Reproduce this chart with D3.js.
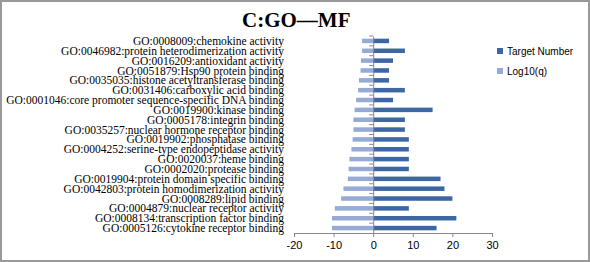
<!DOCTYPE html>
<html>
<head>
<meta charset="utf-8">
<script src="https://cdn.jsdelivr.net/npm/d3@7"></script>
<style>
  body { margin: 0; background: #fff; }
  .cat text { font-family: "Liberation Serif", "Times New Roman", serif; font-size: 11.5px; fill: #000; }
  .legend text { font-family: "Liberation Sans", Arial, sans-serif; font-size: 10px; fill: #000; }
</style>
</head>
<body>
<div id="chart"></div>
<script>
var categories = [
    "GO:0008009:chemokine activity",
    "GO:0046982:protein heterodimerization activity",
    "GO:0016209:antioxidant activity",
    "GO:0051879:Hsp90 protein binding",
    "GO:0035035:histone acetyltransferase binding",
    "GO:0031406:carboxylic acid binding",
    "GO:0001046:core promoter sequence-specific DNA binding",
    "GO:0019900:kinase binding",
    "GO:0005178:integrin binding",
    "GO:0035257:nuclear hormone receptor binding",
    "GO:0019902:phosphatase binding",
    "GO:0004252:serine-type endopeptidase activity",
    "GO:0020037:heme binding",
    "GO:0002020:protease binding",
    "GO:0019904:protein domain specific binding",
    "GO:0042803:protein homodimerization activity",
    "GO:0008289:lipid binding",
    "GO:0004879:nuclear receptor activity",
    "GO:0008134:transcription factor binding",
    "GO:0005126:cytokine receptor binding"
];
var targetNumber = [4, 8, 5, 4, 4, 8, 5, 15, 8, 8, 9, 9, 9, 9, 17, 18, 20, 9, 21, 16];
var log10q = [-2.8, -2.8, -3.1, -3.2, -3.6, -3.8, -4.3, -4.7, -5, -5, -5.2, -5.5, -6, -6.2, -6.4, -7.5, -8.1, -9.7, -10.4, -10.4];
var xTicks = [-20, -10, 0, 10, 20, 30];
var seriesNames = ["Target Number", "Log10(q)"];

var w = 590;
var h = 262;
var colors = ["#3D67A3", "#95ABD6"];

var svg = d3.select("#chart")
            .append("svg")
            .attr("width", w)
            .attr("height", h);

// frame
svg.append("rect")
    .attr("x", 1).attr("y", 1)
    .attr("width", w - 2).attr("height", h - 2)
    .attr("fill", "#fff")
    .attr("stroke", "#999")
    .attr("stroke-width", 2);

// title
svg.append("text")
    .attr("x", 242)
    .attr("y", 27)
    .style("font-family", "'Liberation Serif', 'Times New Roman', serif")
    .style("font-weight", "bold")
    .style("font-size", "21px")
    .text("C:GO\u2014MF");

var xScale = d3.scaleLinear()
            .domain([-20, 30])
            .range([294, 492]);

var yScale = d3.scaleBand()
            .domain(categories)
            .range([36, 233]);

var bh = 4.5;

// bars
svg.append("g").selectAll("rect")
    .data(categories)
    .enter()
    .append("rect")
    .attr("x", function(d, i) { return xScale(log10q[i]); })
    .attr("y", function(d) { return yScale(d) + yScale.bandwidth() / 2 - bh / 2; })
    .attr("width", function(d, i) { return xScale(0) - xScale(log10q[i]); })
    .attr("height", bh)
    .attr("fill", colors[1]);

svg.append("g").selectAll("rect")
    .data(categories)
    .enter()
    .append("rect")
    .attr("x", xScale(0))
    .attr("y", function(d) { return yScale(d) + yScale.bandwidth() / 2 - bh / 2; })
    .attr("width", function(d, i) { return xScale(targetNumber[i]) - xScale(0); })
    .attr("height", bh)
    .attr("fill", colors[0]);

// x axis (plain hyphen for negatives, like the original)
var xAxis = d3.axisBottom(xScale)
    .tickValues(xTicks)
    .tickFormat(function(d) { return String(d); })
    .tickSize(4)
    .tickSizeOuter(0);

var gx = svg.append("g")
    .attr("transform", "translate(0," + 233 + ")")
    .call(xAxis);
gx.select(".domain").attr("stroke", "#888");
gx.selectAll(".tick line").attr("stroke", "#888");
gx.selectAll(".tick text")
    .attr("y", 8)
    .attr("dy", "0.71em")
    .attr("fill", "#000")
    .style("font-size", "11px")
    .style("font-family", "'Liberation Sans', Arial, sans-serif");

// y axis at zero
var yAxis = d3.axisLeft(yScale)
    .tickSize(0)
    .tickFormat("");
var gy = svg.append("g")
    .attr("transform", "translate(" + xScale(0) + ",0)")
    .call(yAxis);
gy.select(".domain").attr("stroke", "#888");

// category boundary ticks
svg.append("g").selectAll("line")
    .data(categories)
    .enter()
    .append("line")
    .attr("x1", xScale(0) - 4)
    .attr("x2", xScale(0))
    .attr("y1", function(d) { return yScale(d); })
    .attr("y2", function(d) { return yScale(d); })
    .attr("stroke", "#888");

// category labels
svg.append("g")
    .attr("class", "cat")
    .selectAll("text")
    .data(categories)
    .enter()
    .append("text")
    .attr("x", 284)
    .attr("y", function(d) { return yScale(d) + yScale.bandwidth() / 2; })
    .attr("dy", "0.35em")
    .attr("text-anchor", "end")
    .text(function(d) { return d; });

// legend
var lg = svg.append("g").attr("class", "legend");
lg.selectAll("rect")
    .data(seriesNames)
    .enter()
    .append("rect")
    .attr("x", 497)
    .attr("y", function(d, i) { return 48 + i * 20; })
    .attr("width", 6)
    .attr("height", 6)
    .attr("fill", function(d, i) { return colors[i]; });
lg.selectAll("text")
    .data(seriesNames)
    .enter()
    .append("text")
    .attr("x", 507)
    .attr("y", function(d, i) { return 51 + i * 20; })
    .attr("dy", "0.35em")
    .text(function(d) { return d; });
</script>
</body>
</html>
